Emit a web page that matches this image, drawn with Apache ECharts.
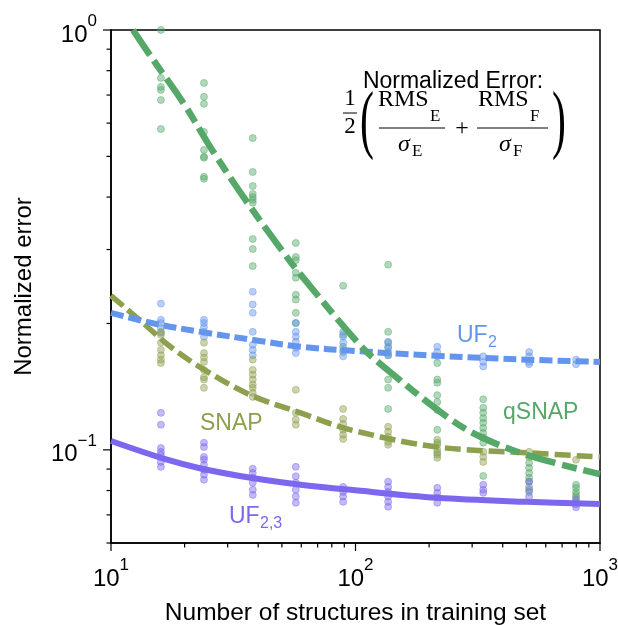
<!DOCTYPE html>
<html><head><meta charset="utf-8">
<script src="https://cdn.jsdelivr.net/npm/echarts@6/dist/echarts.min.js"></script>
<style>html,body{margin:0;padding:0;background:#fff}#c{width:618px;height:625px}</style>
</head><body><div id="c"></div>
<script>
// ---- data ----
const xCols = [16, 24, 38, 57, 89, 136, 216, 333, 513, 798];

const qsnapPts = [
  [1.0, 0.769, 0.732, 0.720, 0.681, 0.581],
  [0.748, 0.693, 0.667, 0.572, 0.518, 0.499, 0.496, 0.447, 0.442],
  [0.553, 0.459, 0.425, 0.407, 0.400, 0.394, 0.388, 0.318, 0.301, 0.274],
  [0.311, 0.288, 0.283, 0.264, 0.257, 0.234, 0.228, 0.212, 0.2005],
  [0.246, 0.188, 0.176, 0.171],
  [0.276, 0.191, 0.180, 0.175, 0.168, 0.147, 0.1405, 0.1252],
  [0.161, 0.147, 0.1445, 0.135, 0.130, 0.1245, 0.1116, 0.104, 0.0984],
  [0.132, 0.1259, 0.1225, 0.119, 0.116, 0.1128, 0.1097, 0.1069, 0.104, 0.0867],
  [0.0931, 0.0906, 0.0881, 0.0858, 0.0840, 0.0816, 0.0794],
  [0.0826, 0.0812, 0.0794, 0.0781, 0.0770, 0.0752]
];
const uf2Pts = [
  [0.223, 0.204, 0.2005, 0.195, 0.190],
  [0.204, 0.2005, 0.196, 0.191, 0.186],
  [0.238, 0.222, 0.212, 0.191, 0.178, 0.173, 0.168],
  [0.2005, 0.191, 0.186, 0.181, 0.175, 0.170],
  [0.191, 0.186, 0.180, 0.173, 0.167],
  [0.181, 0.176, 0.171, 0.168],
  [0.176, 0.171, 0.167],
  [0.167, 0.162, 0.158],
  [0.171, 0.167, 0.162, 0.160],
  [0.164, 0.160]
];
const snapPts = [
  [0.191, 0.188, 0.180, 0.173, 0.168, 0.164, 0.161],
  [0.180, 0.170, 0.166, 0.162, 0.155, 0.149, 0.147, 0.1405],
  [0.164, 0.155, 0.151, 0.147, 0.143, 0.1405, 0.1367, 0.1337],
  [0.139, 0.1225, 0.118, 0.1148],
  [0.1252, 0.1185, 0.1153, 0.1116, 0.1086, 0.1062],
  [0.1135, 0.1104, 0.1074, 0.1045, 0.1028],
  [0.1057, 0.1028, 0.1, 0.0973, 0.0957],
  [0.0989, 0.0962, 0.0936],
  [0.0989, 0.0962],
  [0.0947]
];
const uf23Pts = [
  [0.1225, 0.1148, 0.101, 0.0989, 0.0973, 0.0936, 0.0911],
  [0.104, 0.1016, 0.0962, 0.0947, 0.0921, 0.0896, 0.0872, 0.0849],
  [0.0902, 0.0881, 0.0858, 0.0835, 0.0803, 0.0781],
  [0.0911, 0.0865, 0.0835, 0.0803, 0.0774, 0.0748],
  [0.0816, 0.0794, 0.0774, 0.0752],
  [0.0840, 0.0816, 0.0794, 0.0774, 0.0752, 0.0732],
  [0.0812, 0.0790, 0.0770, 0.0748],
  [0.0826, 0.0803, 0.0790],
  [0.0840, 0.0803, 0.0774],
  [0.0761, 0.0742, 0.0730]
];

// fitted curves
const qsnapFitX = [12.3, 14.9, 19.8, 26.2, 35.9, 49.9, 59.3, 104, 130, 236, 323, 501, 1000];
const qsnapFitY = [1.0, 0.848, 0.669, 0.513, 0.390, 0.299, 0.2625, 0.178, 0.158, 0.120, 0.1076, 0.0973, 0.0875];
const uf2FitX = [10, 15, 23.3, 40, 59.6, 100, 216, 500, 1000];
const uf2FitY = [0.212, 0.200, 0.191, 0.182, 0.176, 0.172, 0.1675, 0.164, 0.162];
const snapFitX = [10, 13.6, 17.1, 23.3, 37.3, 59.6, 95.5, 216, 503, 1000];
const snapFitY = [0.233, 0.200, 0.178, 0.157, 0.135, 0.1225, 0.1116, 0.1016, 0.0984, 0.0962];
const uf23FitX = [10, 17.1, 23.3, 37.3, 59.6, 95.5, 216, 503, 1000];
const uf23FitY = [0.105, 0.0946, 0.0903, 0.0858, 0.0826, 0.0803, 0.0769, 0.0752, 0.0743];

// axis ticks
const xMajorTicks = [10, 100, 1000];
const xMinorTicks = [20, 30, 40, 50, 60, 70, 80, 90, 200, 300, 400, 500, 600, 700, 800, 900];
const yMajorTicks = [0.1, 1];
const yMinorTicks = [0.06, 0.07, 0.08, 0.09, 0.2, 0.3, 0.4, 0.5, 0.6, 0.7, 0.8, 0.9];
const X_MIN = 10, X_MAX = 1000, Y_MIN = 0.06, Y_MAX = 1;

// ---- chart ----
const C_Q = '#55A868', C_U2 = '#6495ED', C_S = '#8DA04E', C_U23 = '#7B68EE';
const FONT = '"Liberation Sans", Arial, sans-serif';
const SERIF = '"Liberation Serif", "Times New Roman", serif';

function colPts(pts) { const out = []; pts.forEach((col, i) => col.forEach(v => out.push([xCols[i], v]))); return out; }
function fit(xs, ys) { return xs.map((x, i) => [x, ys[i]]); }
const isPow10 = v => Math.abs(Math.log10(v) - Math.round(Math.log10(v))) < 1e-6;
const tickFmt = v => isPow10(v) ? '{b|10}{s|' + String(Math.round(Math.log10(v))).replace('-', '\u2212') + '}' : '';
const rich = {
  b: { fontSize: 24, lineHeight: 34, verticalAlign: 'bottom', fontFamily: FONT, color: '#000' },
  s: { fontSize: 17, lineHeight: 17, verticalAlign: 'top', fontFamily: FONT, color: '#000' }
};

function scatter(name, pts, color) {
  return { type: 'scatter', name, data: colPts(pts), symbol: 'circle', symbolSize: 7, z: 2,
    itemStyle: { color: color, opacity: 0.45, borderColor: color, borderWidth: 1 }, silent: true };
}
function line(name, xs, ys, color, width, dash, z) {
  return { type: 'line', name, data: fit(xs, ys), showSymbol: false, symbol: 'none', smooth: 0.35, z: z,
    lineStyle: { color, width, type: dash, cap: 'butt' }, silent: true };
}

const tickData = [];
xMajorTicks.forEach(v => tickData.push([v, Y_MIN, 8, 0]));
xMinorTicks.forEach(v => tickData.push([v, Y_MIN, 4.5, 0]));
yMajorTicks.forEach(v => tickData.push([X_MIN, v, 8, 1]));
yMinorTicks.forEach(v => tickData.push([X_MIN, v, 4.5, 1]));

function txt(x, y, text, size, color, family, align, extra, el) {
  return Object.assign({ type: 'text', x, y, z: 100,
    style: Object.assign({ text, fontSize: size, fontFamily: family || FONT, fill: color || '#000',
      align: align || 'left', verticalAlign: 'middle', textAlign: align || 'left', textVerticalAlign: 'middle' }, extra || {}) }, el || {});
}
function bar(x1, x2, y) {
  return { type: 'line', z: 100, shape: { x1, y1: y, x2, y2: y }, style: { stroke: '#000', lineWidth: 1 } };
}

const graphic = [
  txt(453, 82, 'Normalized Error:', 23, '#000', FONT, 'center'),
  txt(350, 99, '1', 23, '#000', SERIF, 'center'),
  bar(343, 357, 113),
  txt(350, 127, '2', 23, '#000', SERIF, 'center'),
  txt(367, 124, '(', 76, '#000', SERIF, 'center', null, { scaleX: 0.55 }),
  txt(378, 100, 'RMS', 24, '#000', SERIF),
  txt(430, 117, 'E', 17, '#000', SERIF),
  bar(379, 445, 128),
  txt(398, 145, '\u03C3', 24, '#000', SERIF, 'left', { fontStyle: 'italic' }),
  txt(412, 152, 'E', 17, '#000', SERIF),
  txt(462, 129, '+', 24, '#000', SERIF, 'center'),
  txt(478, 100, 'RMS', 24, '#000', SERIF),
  txt(530, 117, 'F', 17, '#000', SERIF),
  bar(477, 548, 128),
  txt(499, 145, '\u03C3', 24, '#000', SERIF, 'left', { fontStyle: 'italic' }),
  txt(513, 152, 'F', 17, '#000', SERIF),
  txt(559, 124, ')', 76, '#000', SERIF, 'center', null, { scaleX: 0.55 }),
  // series labels
  txt(457, 336, 'UF', 23, C_U2),
  txt(488, 343, '2', 16, C_U2),
  txt(503, 413, 'qSNAP', 23, C_Q),
  txt(200, 424, 'SNAP', 23, C_S),
  txt(229, 517, 'UF', 23, C_U23),
  txt(260, 524, '2,3', 16, C_U23)
];

const option = {
  animation: false,
  backgroundColor: '#fff',
  grid: { left: 111, right: 18, top: 30, bottom: 82, show: true, borderColor: '#000', borderWidth: 1.5,
    containLabel: false, outerBoundsMode: 'none' },
  xAxis: {
    type: 'log', logBase: 10, min: X_MIN, max: X_MAX,
    axisLine: { show: true, lineStyle: { color: '#000', width: 1.5 } },
    axisTick: { show: false }, minorTick: { show: false }, splitLine: { show: false },
    axisLabel: { formatter: tickFmt, rich, margin: 14, color: '#000', showMinLabel: true, showMaxLabel: true },
    name: 'Number of structures in training set', nameLocation: 'middle', nameGap: 58,
    nameTextStyle: { fontSize: 24.5, fontFamily: FONT, color: '#000' }
  },
  yAxis: {
    type: 'log', logBase: 10, min: Y_MIN, max: Y_MAX,
    axisLine: { show: true, lineStyle: { color: '#000', width: 1.5 } },
    axisTick: { show: false }, minorTick: { show: false }, splitLine: { show: false },
    axisLabel: { formatter: tickFmt, rich, margin: 14, color: '#000' },
    name: 'Normalized error', nameLocation: 'middle', nameGap: 75, nameRotate: 90,
    nameTextStyle: { fontSize: 24, fontFamily: FONT, color: '#000' }
  },
  series: [
    scatter('qSNAP pts', qsnapPts, C_Q),
    scatter('UF2 pts', uf2Pts, C_U2),
    scatter('SNAP pts', snapPts, C_S),
    scatter('UF23 pts', uf23Pts, C_U23),
    line('UF2,3', uf23FitX, uf23FitY, C_U23, 6, 'solid', 5),
    line('SNAP', snapFitX, snapFitY, C_S, 5.5, [16, 6], 6),
    line('UF2', uf2FitX, uf2FitY, C_U2, 6, [13, 5], 7),
    line('qSNAP', qsnapFitX, qsnapFitY, C_Q, 6.5, [30, 7, 15, 7], 8),
    { type: 'custom', name: 'ticks', data: tickData, clip: false, silent: true, z: 20,
      encode: { x: 0, y: 1 },
      renderItem: function (params, api) {
        const p = api.coord([api.value(0), api.value(1)]);
        const len = api.value(2);
        const vert = api.value(3) === 0;
        return { type: 'line', shape: vert ? { x1: p[0], y1: p[1], x2: p[0], y2: p[1] + len }
                                            : { x1: p[0] - len, y1: p[1], x2: p[0], y2: p[1] },
          style: { stroke: '#000', lineWidth: 1.2 } };
      } }
  ],
  graphic
};
const chart = echarts.init(document.getElementById('c'), null, { renderer: 'canvas' });
chart.setOption(option);
</script></body></html>
